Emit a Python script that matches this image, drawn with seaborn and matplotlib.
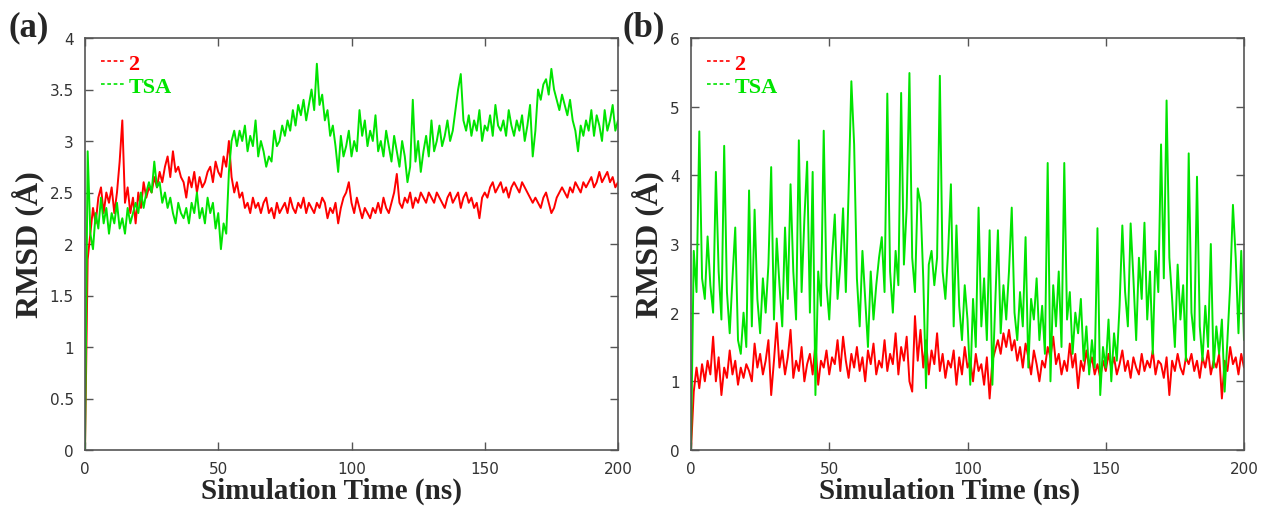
import numpy as np
import pandas as pd
import matplotlib
matplotlib.use("Agg")
import matplotlib.pyplot as plt
from matplotlib.lines import Line2D
import seaborn as sns

time_ns = list(range(0, 201))

a_rmsd_2 = [0, 1.85, 2.1, 2.35, 2.2, 2.45, 2.55, 2.3, 2.5, 2.4, 2.55, 2.3, 2.5, 2.8, 3.2, 2.4, 2.55, 2.3, 2.45, 2.2,
            2.5, 2.35, 2.6, 2.45, 2.55, 2.5, 2.65, 2.55, 2.7, 2.6, 2.75, 2.85, 2.65, 2.9, 2.7, 2.75, 2.65, 2.6, 2.45, 2.65,
            2.55, 2.7, 2.5, 2.65, 2.55, 2.6, 2.7, 2.75, 2.6, 2.8, 2.7, 2.65, 2.85, 2.75, 3.0, 2.65, 2.5, 2.6, 2.45, 2.5,
            2.35, 2.4, 2.3, 2.45, 2.35, 2.4, 2.3, 2.4, 2.45, 2.3, 2.35, 2.25, 2.4, 2.3, 2.35, 2.4, 2.3, 2.45, 2.35, 2.3,
            2.4, 2.35, 2.45, 2.3, 2.4, 2.35, 2.3, 2.4, 2.35, 2.45, 2.4, 2.25, 2.35, 2.3, 2.4, 2.2, 2.35, 2.45, 2.5, 2.6,
            2.4, 2.3, 2.45, 2.35, 2.25, 2.35, 2.3, 2.25, 2.35, 2.3, 2.4, 2.3, 2.45, 2.35, 2.3, 2.4, 2.5, 2.68, 2.4, 2.35,
            2.45, 2.4, 2.5, 2.35, 2.45, 2.4, 2.5, 2.45, 2.4, 2.5, 2.45, 2.4, 2.5, 2.45, 2.4, 2.35, 2.45, 2.5, 2.4, 2.45,
            2.5, 2.35, 2.45, 2.5, 2.4, 2.45, 2.35, 2.4, 2.25, 2.45, 2.5, 2.45, 2.55, 2.6, 2.5, 2.55, 2.6, 2.5, 2.55, 2.45,
            2.55, 2.6, 2.55, 2.5, 2.6, 2.55, 2.5, 2.45, 2.4, 2.45, 2.4, 2.35, 2.45, 2.5, 2.4, 2.3, 2.35, 2.45, 2.5, 2.55,
            2.5, 2.45, 2.55, 2.5, 2.6, 2.55, 2.5, 2.6, 2.55, 2.6, 2.65, 2.55, 2.6, 2.7, 2.6, 2.65, 2.7, 2.6, 2.65, 2.55,
            2.6]

a_rmsd_tsa = [0, 2.9, 2.1, 1.95, 2.3, 2.15, 2.45, 2.2, 2.35, 2.1, 2.3, 2.2, 2.4, 2.15, 2.25, 2.1, 2.35, 2.2, 2.3, 2.4,
              2.3, 2.5, 2.35, 2.5, 2.6, 2.5, 2.8, 2.55, 2.6, 2.4, 2.5, 2.35, 2.45, 2.3, 2.2, 2.4, 2.3, 2.25, 2.35, 2.2,
              2.4, 2.3, 2.5, 2.25, 2.35, 2.2, 2.45, 2.3, 2.4, 2.15, 2.3, 1.95, 2.2, 2.1, 2.7, 3.0, 3.1, 2.95, 3.1, 3.0,
              3.15, 2.9, 3.05, 2.95, 3.2, 2.85, 3.0, 2.9, 2.75, 2.85, 2.8, 3.1, 2.95, 3.0, 3.15, 3.05, 3.2, 3.1, 3.3, 3.15,
              3.35, 3.25, 3.4, 3.2, 3.35, 3.5, 3.3, 3.75, 3.35, 3.45, 3.2, 3.3, 3.05, 3.15, 2.95, 2.7, 3.05, 2.85, 2.95, 3.1,
              2.85, 3.0, 2.9, 3.3, 3.05, 3.2, 2.95, 3.1, 3.0, 3.25, 2.9, 3.0, 2.85, 3.1, 2.95, 2.8, 3.05, 2.9, 2.75, 3.0,
              2.85, 2.6, 2.75, 3.4, 2.8, 3.0, 2.7, 2.9, 3.05, 2.85, 3.2, 2.9, 3.0, 3.15, 2.95, 3.05, 3.2, 3.0, 3.1, 3.3,
              3.5, 3.65, 3.2, 3.1, 3.25, 3.05, 3.2, 3.1, 3.3, 3.0, 3.15, 3.1, 3.25, 3.05, 3.35, 3.15, 3.1, 3.2, 3.05, 3.3,
              3.15, 3.05, 3.2, 3.1, 3.25, 3.0, 3.15, 3.35, 2.85, 3.1, 3.5, 3.4, 3.55, 3.6, 3.45, 3.7, 3.5, 3.4, 3.3, 3.45,
              3.35, 3.25, 3.4, 3.2, 3.1, 2.9, 3.15, 3.05, 3.2, 3.1, 3.3, 3.05, 3.25, 3.15, 3.0, 3.3, 3.1, 3.2, 3.35, 3.1,
              3.2]

b_rmsd_2 = [0, 0.85, 1.2, 0.9, 1.25, 1.0, 1.3, 1.1, 1.65, 1.0, 1.35, 0.8, 1.2, 1.05, 1.45, 1.1, 1.3, 0.95, 1.2, 1.05,
            1.25, 1.15, 1.0, 1.55, 1.2, 1.4, 1.1, 1.3, 1.6, 0.8, 1.3, 1.85, 1.2, 1.45, 1.1, 1.35, 1.75, 1.05, 1.3, 1.15,
            1.5, 1.0, 1.25, 1.4, 1.1, 1.55, 0.95, 1.3, 1.2, 1.45, 1.1, 1.35, 1.25, 1.6, 1.15, 1.65, 1.3, 1.05, 1.4, 1.2,
            1.5, 1.15, 1.35, 1.0, 1.45, 1.25, 1.55, 1.1, 1.3, 1.2, 1.6, 1.15, 1.4, 1.25, 1.7, 1.1, 1.5, 1.3, 1.65, 1.0,
            0.85, 1.95, 1.3, 1.75, 1.2, 1.6, 1.1, 1.45, 1.25, 1.7, 1.15, 1.4, 1.05, 1.3, 1.2, 1.45, 0.95, 1.35, 1.1, 1.5,
            1.2, 1.3, 1.0, 1.4, 1.15, 1.25, 0.95, 1.35, 0.75, 1.3, 1.45, 1.6, 1.4, 1.7, 1.5, 1.75, 1.45, 1.6, 1.3, 1.5,
            1.2, 1.55, 1.35, 1.1, 1.45, 1.25, 1.0, 1.3, 1.2, 1.5, 1.35, 1.65, 1.25, 1.4, 1.1, 1.3, 1.15, 1.55, 1.2, 1.4,
            0.9, 1.3, 1.15, 1.45, 1.2, 1.35, 1.1, 1.25, 1.05, 1.3, 1.15, 1.4, 1.2, 1.35, 1.1, 1.25, 1.45, 1.15, 1.3, 1.05,
            1.35, 1.2, 1.1, 1.4, 1.15, 1.3, 1.2, 1.45, 1.1, 1.3, 1.25, 1.05, 1.35, 0.8, 1.3, 1.15, 1.4, 1.2, 1.1, 1.35,
            1.25, 1.4, 1.15, 1.3, 1.05, 1.35, 1.2, 1.45, 1.1, 1.3, 1.2, 1.4, 0.75, 1.3, 1.15, 1.5, 1.25, 1.35, 1.1, 1.4,
            1.2]

b_rmsd_tsa = [0, 2.9, 2.3, 4.64, 2.5, 2.2, 3.11, 2.4, 2.0, 4.05, 2.6, 1.9, 4.43, 2.3, 1.7, 2.5, 3.24, 1.6, 1.4, 2.0,
              1.5, 3.78, 1.8, 3.5, 2.2, 1.7, 2.5, 2.0, 2.7, 4.12, 1.9, 3.08, 2.4, 1.8, 3.24, 2.2, 3.87, 2.6, 1.9, 4.51,
              2.3, 3.36, 4.2, 2.0, 4.05, 0.8, 2.6, 2.1, 4.65, 2.4, 1.9, 2.8, 3.43, 2.2, 2.7, 3.52, 2.3, 3.78, 5.37, 4.45,
              2.5, 1.8, 2.9, 2.2, 1.5, 2.6, 1.9, 2.4, 2.8, 3.1, 2.3, 5.19, 2.6, 2.0, 2.9, 2.4, 5.2, 2.7, 3.52, 5.49,
              2.8, 2.3, 3.81, 3.6, 2.5, 0.9, 2.7, 2.9, 2.4, 2.8, 5.45, 2.6, 2.2, 2.9, 3.87, 1.8, 3.27, 2.1, 1.6, 2.4,
              1.9, 0.95, 2.2, 1.5, 3.53, 1.8, 2.5, 1.6, 3.2, 0.95, 2.1, 3.2, 1.7, 2.4, 1.9, 2.6, 3.53, 2.0, 1.6, 2.3,
              1.8, 3.1, 1.2, 2.2, 1.9, 2.5, 1.6, 2.1, 1.4, 4.18, 1.0, 2.4, 1.8, 2.6, 1.5, 4.18, 1.9, 2.3, 1.4, 2.0,
              1.7, 2.2, 1.3, 1.8, 1.1, 1.6, 1.2, 3.23, 0.8, 1.5, 1.2, 1.9, 1.0, 1.7, 1.3, 2.1, 3.27, 2.3, 1.8, 3.3,
              2.5, 1.6, 2.8, 2.2, 3.31, 1.9, 2.6, 1.4, 2.9, 2.3, 4.45, 2.5, 5.09, 2.8, 2.2, 1.5, 2.7, 1.9, 2.4, 1.3,
              4.32, 2.0, 1.6, 3.98, 1.8, 1.3, 2.1, 1.5, 3.0, 1.2, 1.8, 1.4, 1.9, 0.85, 1.6, 2.4, 3.57, 2.8, 1.7, 2.9,
              1.6]

series_names = ["2", "TSA"]
series_colors = ["#ff0000", "#00e400"]
panel_labels = ["(a)", "(b)"]
a_yticks = [0, 0.5, 1, 1.5, 2, 2.5, 3, 3.5, 4]
a_yticklabels = ["0", "0.5", "1", "1.5", "2", "2.5", "3", "3.5", "4"]
b_yticks = [0, 1, 2, 3, 4, 5, 6]
x_ticks = [0, 50, 100, 150, 200]

sns.set_style("white")
plt.rcParams["font.family"] = ["DejaVu Sans"]

fig = plt.figure(figsize=(12.63, 5.10), dpi=100)
ax_a = fig.add_axes([85 / 1263, 59 / 510, 533 / 1263, 412 / 510])
ax_b = fig.add_axes([691 / 1263, 59 / 510, 553 / 1263, 412 / 510])

def make_df(v2, vtsa):
    return pd.DataFrame({
        "time": time_ns * 2,
        "rmsd": list(v2) + list(vtsa),
        "series": [series_names[0]] * len(v2) + [series_names[1]] * len(vtsa),
    })

panels = [
    (ax_a, make_df(a_rmsd_2, a_rmsd_tsa), (0, 4), a_yticks, a_yticklabels, 0.463),
    (ax_b, make_df(b_rmsd_2, b_rmsd_tsa), (0, 6), b_yticks, [str(t) for t in b_yticks], 0.468),
]

serif = ["Liberation Serif", "DejaVu Serif"]
for ax, df, ylim, yt, ytl, xlab_x in panels:
    sns.lineplot(data=df, x="time", y="rmsd", hue="series", palette=series_colors,
                 hue_order=series_names, ax=ax, linewidth=1.4, legend=False, estimator=None)
    ax.set_xlim(0, 200)
    ax.set_ylim(*ylim)
    ax.set_xticks(x_ticks)
    ax.set_xticklabels([str(t) for t in x_ticks])
    ax.set_yticks(yt)
    ax.set_yticklabels(ytl)
    ax.tick_params(direction="in", length=6, width=1.0, color="#555555", labelcolor="#333333",
                   labelsize=11, top=True, right=True, bottom=True, left=True, pad=8)
    for s in ax.spines.values():
        s.set_color("#555555")
        s.set_linewidth(1.2)
    ax.set_xlabel("Simulation Time (ns)", fontfamily=serif, fontweight="bold", fontsize=21)
    ax.xaxis.set_label_coords(xlab_x, -0.064)
    ax.xaxis.label.set_va("top")
    ax.set_ylabel("RMSD (Å)", fontfamily=serif, fontweight="bold", fontsize=23, labelpad=4)
    handles = [Line2D([0], [0], color=c, linestyle=(0, (2.2, 1.6)), linewidth=1.2) for c in series_colors]
    leg = ax.legend(handles, series_names, loc="upper left", frameon=False, handlelength=1.1,
                    handletextpad=0.15, labelspacing=0.1, borderaxespad=0.3,
                    prop={"family": serif, "weight": "bold", "size": 16})
    for txt, c in zip(leg.get_texts(), series_colors):
        txt.set_color(c)

fig.text(8 / 1263, 1 - 28 / 510, panel_labels[0], fontfamily=serif, fontweight="bold", fontsize=25,
         va="center", ha="left")
fig.text(622 / 1263, 1 - 28 / 510, panel_labels[1], fontfamily=serif, fontweight="bold", fontsize=25,
         va="center", ha="left")

fig.savefig("out.png", dpi=100)
